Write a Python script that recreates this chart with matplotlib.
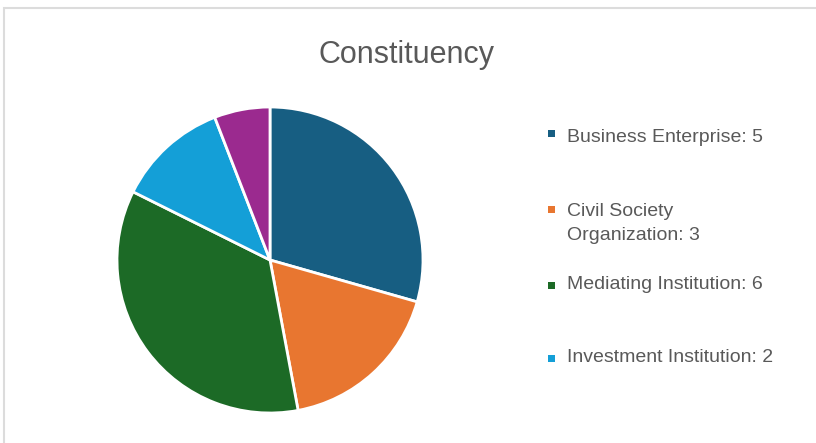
import matplotlib
matplotlib.use('Agg')
import matplotlib.pyplot as plt
from matplotlib.patches import Rectangle

# 資料
labels = ['Business Enterprise', 'Civil Society Organization', 'Mediating Institution',
          'Investment Institution', 'Other']
values = [5, 3, 6, 2, 1]
colors = ['#175e82', '#e87630', '#1c6a26', '#149fd7', '#9b2a8f']
legend_labels = ['Business Enterprise: 5', 'Civil Society\nOrganization: 3',
                 'Mediating Institution: 6', 'Investment Institution: 2']

W, H = 816, 443
fig = plt.figure(figsize=(W / 100, H / 100), dpi=100)
fig.patch.set_facecolor('white')

# 外框
fig.patches.append(Rectangle((4 / W, -0.1), 1.2, 1 - 8 / H + 0.1, transform=fig.transFigure,
                             fill=False, edgecolor='#dcdcdc', linewidth=1.5))

cx, cy, r = 270, 260, 153
ax = fig.add_axes([(cx - r) / W, (H - cy - r) / H, 2 * r / W, 2 * r / H])
ax.pie(values, colors=colors, startangle=90, counterclock=False, radius=1,
       wedgeprops=dict(edgecolor='white', linewidth=2))
ax.set_xlim(-1, 1)
ax.set_ylim(-1, 1)
ax.set_aspect('equal')
ax.axis('off')

font = 'Liberation Sans'
fig.text(407 / W, 1 - 63 / H, 'Constituency', ha='center', va='baseline',
         fontsize=22, color='#595959', family=font)

# 圖例
marker_y = [134, 209, 285, 358]
base_y = [142, 216, 289, 362]
for lab, col, my, by in zip(legend_labels, colors, marker_y, base_y):
    fig.patches.append(Rectangle((548 / W, 1 - (my + 3.5) / H), 7 / W, 7 / H,
                                 transform=fig.transFigure, facecolor=col, edgecolor='none'))
    for k, line in enumerate(lab.split('\n')):
        fig.text(567 / W, 1 - (by + 24 * k) / H, line, ha='left', va='baseline',
                 fontsize=14, color='#595959', family=font)

fig.savefig('out.png', dpi=100)
